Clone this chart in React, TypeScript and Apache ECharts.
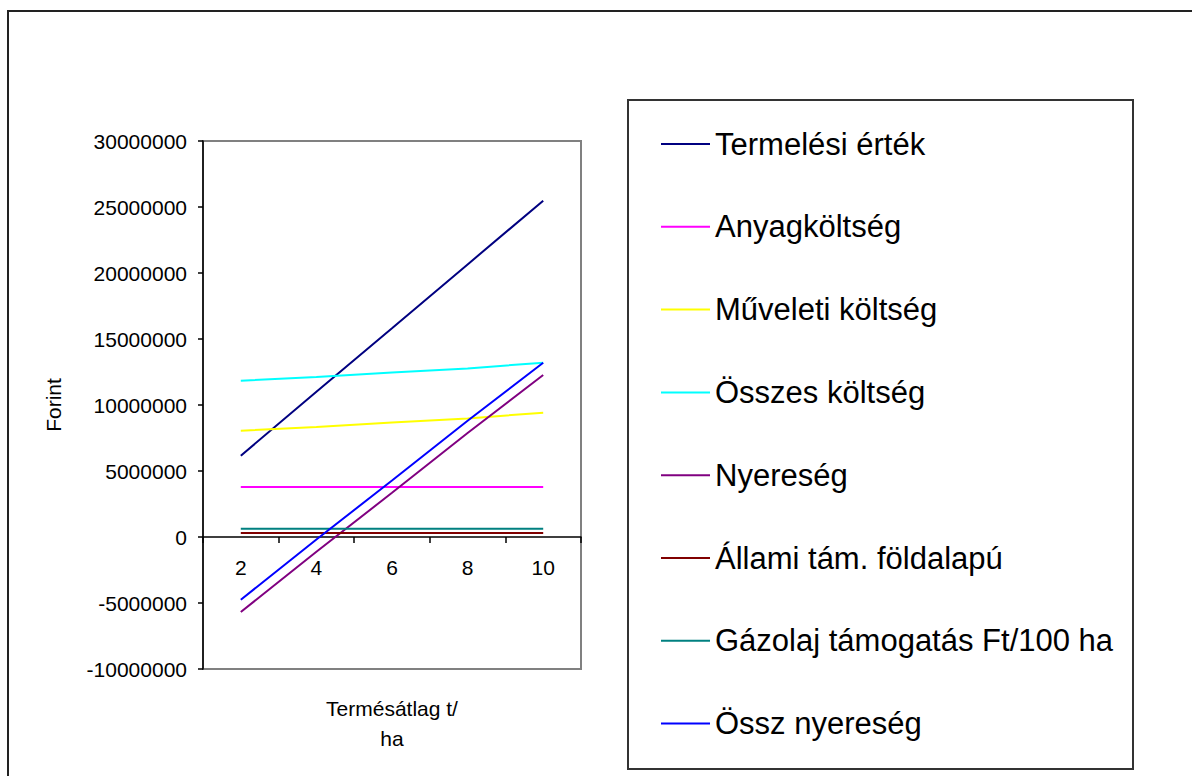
import React, { useEffect, useRef } from "react";
import * as echarts from "echarts";

const categories = ["2", "4", "6", "8", "10"];
const termelesiErtek = [6160000, 11000000, 15820000, 20650000, 25480000];
const anyagkoltseg = [3790000, 3790000, 3790000, 3790000, 3790000];
const muveletiKoltseg = [8050000, 8330000, 8680000, 8980000, 9420000];
const osszesKoltseg = [11840000, 12120000, 12470000, 12770000, 13210000];
const nyereseg = [-5680000, -1120000, 3350000, 7880000, 12270000];
const allamiTam = [300000, 300000, 300000, 300000, 300000];
const gazolajTam = [630000, 630000, 630000, 630000, 630000];
const osszNyereseg = [-4750000, -190000, 4280000, 8810000, 13200000];

const seriesNames = [
  "Termelési érték",
  "Anyagköltség",
  "Műveleti költség",
  "Összes költség",
  "Nyereség",
  "Állami tám. földalapú",
  "Gázolaj támogatás Ft/100 ha",
  "Össz nyereség",
];
const seriesData = [
  termelesiErtek,
  anyagkoltseg,
  muveletiKoltseg,
  osszesKoltseg,
  nyereseg,
  allamiTam,
  gazolajTam,
  osszNyereseg,
];
const seriesColors = [
  "#000080",
  "#FF00FF",
  "#FFFF00",
  "#00FFFF",
  "#800080",
  "#800000",
  "#008080",
  "#0000FF",
];

const FONT = "'Liberation Sans', Arial, sans-serif";
const Y_MIN = -10000000;
const Y_MAX = 30000000;
const GRID_TOP = 141;
const GRID_HEIGHT = 528;

export default function App() {
  const ref = useRef<HTMLDivElement>(null);
  useEffect(() => {
    if (!ref.current) return;
    const chart = echarts.init(ref.current, undefined, { renderer: "svg" });
    // distance from grid bottom up to the value 0, so the category axis sits on zero
    const zeroOffset = (-Y_MIN / (Y_MAX - Y_MIN)) * GRID_HEIGHT;
    chart.setOption({
      animation: false,
      backgroundColor: "#ffffff",
      textStyle: { fontFamily: FONT, color: "#000" },
      grid: {
        left: 203,
        top: GRID_TOP,
        width: 378,
        height: GRID_HEIGHT,
        show: true,
        borderColor: "#808080",
        borderWidth: 2,
        backgroundColor: "#ffffff",
        containLabel: false,
        outerBoundsMode: "none",
      },
      xAxis: {
        type: "category",
        data: categories,
        boundaryGap: true,
        position: "bottom",
        offset: -zeroOffset,
        name: "Termésátlag t/\nha",
        nameLocation: "middle",
        nameGap: 24 + zeroOffset,
        nameMoveOverlap: false,
        nameTextStyle: { fontSize: 21, fontFamily: FONT, color: "#000", lineHeight: 30 },
        axisLine: { onZero: false, lineStyle: { color: "#000", width: 1.5 } },
        axisTick: { show: true, length: 6, alignWithLabel: false, lineStyle: { color: "#000", width: 1.5 } },
        axisLabel: { fontSize: 21, fontFamily: FONT, color: "#000", margin: 20 },
        splitLine: { show: false },
      },
      yAxis: {
        type: "value",
        min: Y_MIN,
        max: Y_MAX,
        interval: 5000000,
        name: "Forint",
        nameLocation: "middle",
        nameRotate: 90,
        nameGap: 139,
        nameTextStyle: { fontSize: 21, fontFamily: FONT, color: "#000" },
        axisLine: { show: true, onZero: false, lineStyle: { color: "#000", width: 1.5 } },
        axisTick: { show: true, length: 5, lineStyle: { color: "#000", width: 1.5 } },
        axisLabel: {
          fontSize: 21,
          fontFamily: FONT,
          color: "#000",
          margin: 16,
          formatter: (v: number) => String(v),
        },
        splitLine: { show: false },
      },
      legend: {
        orient: "vertical",
        left: 656,
        top: 122,
        icon: "rect",
        itemWidth: 49,
        itemHeight: 2,
        itemGap: 48.8,
        data: seriesNames,
        textStyle: { fontSize: 31, fontFamily: FONT, color: "#000", lineHeight: 34 },
      },
      graphic: [
        {
          type: "rect",
          shape: { x: 8, y: 11, width: 1300, height: 900 },
          style: { fill: "none", stroke: "#222", lineWidth: 2 },
          silent: true,
          z: -1,
        },
        {
          type: "rect",
          shape: { x: 628, y: 100, width: 505, height: 669 },
          style: { fill: "none", stroke: "#333", lineWidth: 2 },
          silent: true,
          z: -1,
        },
      ],
      series: seriesNames.map((name, i) => ({
        name,
        type: "line",
        data: seriesData[i],
        symbol: "none",
        lineStyle: { color: seriesColors[i], width: 2 },
        itemStyle: { color: seriesColors[i] },
        z: 2 + i,
      })),
    });
    return () => chart.dispose();
  }, []);
  return (
    <div
      ref={ref}
      style={{ position: "fixed", left: 0, top: 0, width: 1192, height: 776 }}
    />
  );
}
